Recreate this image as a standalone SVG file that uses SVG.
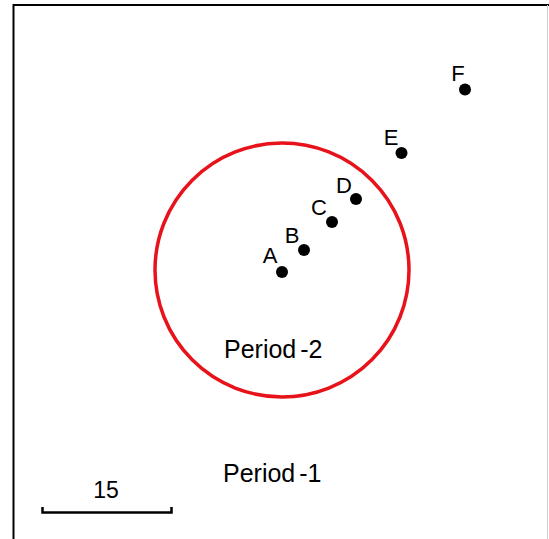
<svg xmlns="http://www.w3.org/2000/svg" width="549" height="539" viewBox="0 0 549 539">
<style>
.lbl{font-family:"Liberation Sans",Arial,sans-serif;fill:#000}
.pt{fill:#000}
</style>
<rect width="549" height="539" fill="#fff"/>
<g id="frame">
<path d="M13.5 539 V5 H549" fill="none" stroke="#000" stroke-width="2"/>
<line x1="547.5" y1="5" x2="547.5" y2="539" stroke="#ccc" stroke-width="1"/>
</g>
<g id="period2-circle">
<circle cx="282" cy="270" r="127" fill="none" stroke="#e8121a" stroke-width="3.5"/>
</g>
<g id="A"><circle class="pt" cx="282" cy="272" r="6"/><text class="lbl" x="270" y="263" font-size="22" text-anchor="middle">A</text></g>
<g id="B"><circle class="pt" cx="304" cy="250" r="6"/><text class="lbl" x="292" y="243" font-size="22" text-anchor="middle">B</text></g>
<g id="C"><circle class="pt" cx="332" cy="222" r="6"/><text class="lbl" x="319" y="215" font-size="22" text-anchor="middle">C</text></g>
<g id="D"><circle class="pt" cx="356" cy="199" r="6"/><text class="lbl" x="344" y="193" font-size="22" text-anchor="middle">D</text></g>
<g id="E"><circle class="pt" cx="401.5" cy="153" r="6"/><text class="lbl" x="391" y="145" font-size="22" text-anchor="middle">E</text></g>
<g id="F"><circle class="pt" cx="465" cy="89.5" r="6"/><text class="lbl" x="458" y="81" font-size="22" text-anchor="middle">F</text></g>
<g id="period2"><text class="lbl" x="224" y="358" font-size="25">Period<tspan dx="4">-2</tspan></text></g>
<g id="period1"><text class="lbl" x="223" y="482" font-size="25">Period<tspan dx="4">-1</tspan></text></g>
<g id="scalebar">
<path d="M42.5 507 V512.5 H171.5 V507" fill="none" stroke="#000" stroke-width="2.5"/>
<text class="lbl" x="106" y="498" font-size="23" text-anchor="middle">15</text>
</g>
</svg>
